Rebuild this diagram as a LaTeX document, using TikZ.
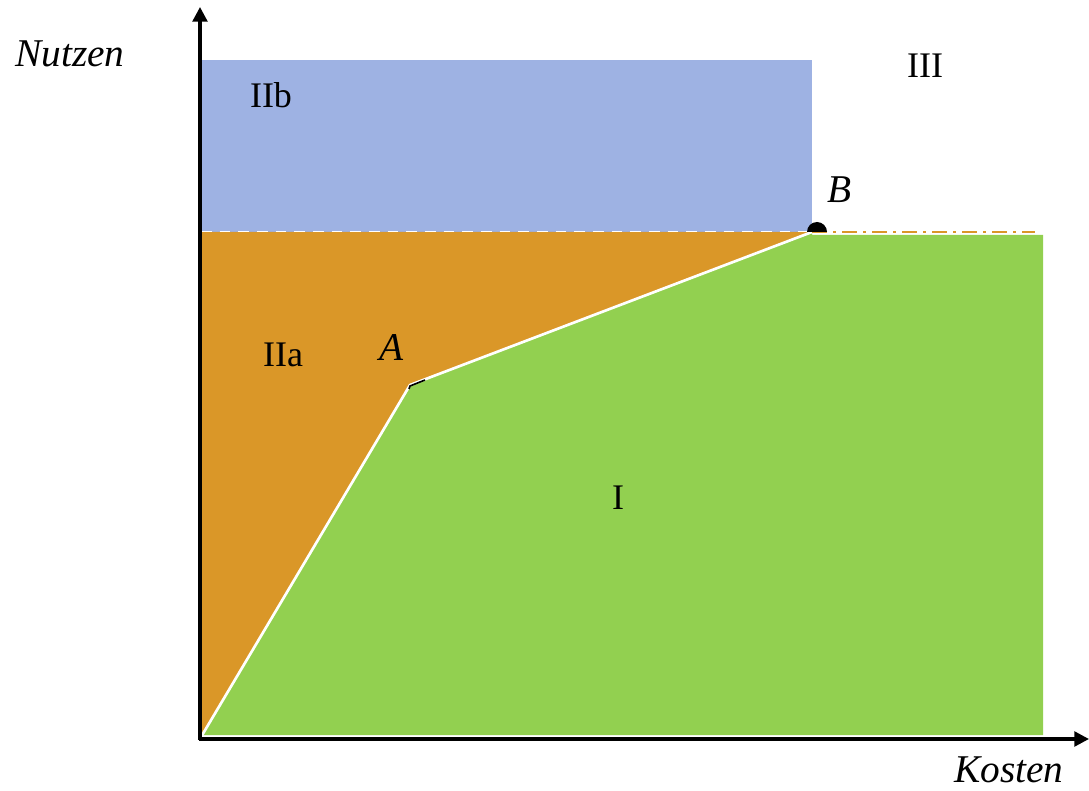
\documentclass[tikz,border=0pt]{standalone}
\usepackage{fontspec}
\setmainfont{Liberation Serif}
\usetikzlibrary{arrows.meta}
\definecolor{regblue}{RGB}{158,178,227}
\definecolor{regorange}{RGB}{218,151,40}
\definecolor{reggreen}{RGB}{146,208,80}
\tikzset{
  lab/.style={inner sep=0pt, anchor=base, font=\fontsize{27}{32}\selectfont},
  ilab/.style={lab, font=\fontsize{29.5}{34}\selectfont\itshape},
  axis/.style={line width=2.5pt, -{Triangle[length=11pt,width=11pt]}},
  border/.style={white, line width=2pt},
}
\begin{document}
\begin{tikzpicture}[x=0.75pt,y=-0.75pt]
\useasboundingbox (0,0) rectangle (1089,791);
% points
\coordinate (O) at (201,737);
\coordinate (A) at (410,385);
\coordinate (B) at (812,232);
\coordinate (Ytip) at (200,7);
\coordinate (Xtip) at (1089,739);
% regions
\fill[regblue] (201,60) rectangle (812,232);
\fill[regorange] (201,232) -- (B) -- (A) -- (O) -- cycle;
\fill[reggreen] (O) -- (A) -- (B) -- (812,235) -- (1043,235) -- (1043,735) -- (201,735) -- cycle;
% boundaries
\draw[border] (O) -- (A) -- (B);
\draw[white, line width=0.75pt, dash pattern=on 8pt off 6pt] (201,232) -- (B);
\draw[regorange, line width=1.8pt, dash pattern=on 11.25pt off 4.5pt on 2.25pt off 4.5pt] (B) -- (1035,232);
\draw[black, line width=1.2pt] (409,389) -- (410,386) -- (425,380);
\fill[black] (807,232) arc[start angle=180,end angle=0,radius=7.5pt] -- cycle;
% axes
\draw[axis] (200,740) -- (Ytip);
\draw[axis] (199,739) -- (Xtip);
% labels
\node[ilab] (nutzen) at (70,67) {Nutzen};
\node[ilab] (kosten) at (1009,782) {Kosten};
\node[lab] (IIb) at (271,108) {IIb};
\node[lab] (IIa) at (283,367) {IIa};
\node[lab] (I) at (618,509) {I};
\node[lab] (III) at (925,78) {III};
\node[ilab] (Alab) at (392,361) {A};
\node[ilab] (Blab) at (840,203) {B};
\end{tikzpicture}
\end{document}
